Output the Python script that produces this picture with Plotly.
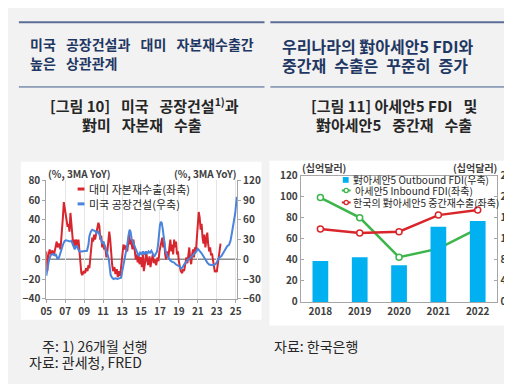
import plotly.graph_objects as go

# ---------------- Left chart data ----------------
red_t = [2005.0, 2005.1, 2005.2, 2005.35, 2005.5, 2005.65, 2005.8, 2005.95, 2006.1, 2006.2, 2006.35, 2006.5,
         2006.6, 2006.75, 2006.85, 2007.0, 2007.1, 2007.25, 2007.35, 2007.45, 2007.55, 2007.65, 2007.75, 2007.85,
         2007.95, 2008.05, 2008.15, 2008.3, 2008.4, 2008.5, 2008.6, 2008.7, 2008.8, 2008.95, 2009.1, 2009.2,
         2009.35, 2009.45, 2009.55, 2009.65, 2009.75, 2009.85, 2009.95, 2010.05, 2010.15, 2010.3, 2010.4, 2010.5,
         2010.6, 2010.7, 2010.8, 2010.9, 2011.0, 2011.1, 2011.2, 2011.35, 2011.45, 2011.55, 2011.65, 2011.75,
         2011.85, 2011.95, 2012.05, 2012.2, 2012.3, 2012.45, 2012.55, 2012.7, 2012.8, 2012.95, 2013.05, 2013.15,
         2013.3, 2013.4, 2013.55, 2013.65, 2013.75, 2013.85, 2013.95, 2014.1, 2014.2, 2014.3, 2014.45, 2014.55,
         2014.65, 2014.75, 2014.85, 2015.0, 2015.1, 2015.2, 2015.3, 2015.45, 2015.55, 2015.65, 2015.75, 2015.9,
         2016.0, 2016.1, 2016.25, 2016.35, 2016.5, 2016.6, 2016.75, 2016.85, 2016.95, 2017.1, 2017.25, 2017.35,
         2017.45, 2017.55, 2017.65, 2017.8, 2017.9, 2018.0, 2018.1, 2018.2, 2018.3, 2018.4, 2018.5, 2018.6,
         2018.7, 2018.8, 2018.9, 2019.0, 2019.1, 2019.2, 2019.35, 2019.45, 2019.55, 2019.7, 2019.8, 2019.9,
         2020.0, 2020.1, 2020.2, 2020.3, 2020.4, 2020.5, 2020.6, 2020.7, 2020.8, 2020.9, 2021.0, 2021.1,
         2021.2, 2021.3, 2021.4, 2021.5, 2021.6, 2021.7, 2021.8, 2021.9, 2022.0, 2022.1, 2022.2, 2022.3,
         2022.4, 2022.5, 2022.6, 2022.7, 2022.8, 2022.9, 2023.0, 2023.1, 2023.2, 2023.3, 2023.4]
red_v = [8, -12, 2, 10, 5, 9, 4, 12, 18, 12, 16, 10,
         20, 42, 58, 48, 38, 33, 36, 28, 47, 38, 25, 14,
         20, 12, 20, 14, 20, 8, -2, -14, -16, -12, -14, -9,
         -12, -6, -9, 0, 10, 22, 18, 25, 20, 28, 33, 37,
         34, 20, 24, 12, 18, 10, 14, 2, 8, 18, 28, 20,
         5, -5, -12, -8, -15, -10, -18, -12, -17, -5, 5, 15,
         10, 14, 8, 18, 25, 15, 20, 10, 20, 12, 0, 5,
         -3, 4, -5, 2, -8, 5, -12, -2, 8, 0, -6, 3,
         -8, -2, 5, -4, 0, -6, 2, -2, 8, 15, 22, 12,
         18, 5, 0, 8, 2, 12, 20, 8, 15, 5, 20, 12,
         18, 5, 8, -2, -8, -12, -14, -10, -12, -5, 2, -4,
         8, 12, 0, -5, 5, 10, 2, 12, 8, 18, 35, 48,
         42, 30, 36, 22, 16, 25, 12, 20, 27, 15, 8, 12,
         4, 6, 0, -5, -13, -11, -13, -6, 2, 10, 16]

blue_t = [2005.0, 2005.15, 2005.3, 2005.5, 2005.7, 2005.9, 2006.0, 2006.1, 2006.2, 2006.35, 2006.5, 2006.65,
          2006.8, 2006.95, 2007.1, 2007.3, 2007.5, 2007.65, 2007.8, 2007.9, 2008.0, 2008.1, 2008.2, 2008.35,
          2008.5, 2008.7, 2008.9, 2009.1, 2009.3, 2009.45, 2009.55, 2009.7, 2009.85, 2010.0, 2010.15, 2010.3,
          2010.45, 2010.6, 2010.75, 2010.9, 2011.05, 2011.2, 2011.35, 2011.5, 2011.6, 2011.7, 2011.8, 2011.95,
          2012.1, 2012.3, 2012.5, 2012.7, 2012.9, 2013.0, 2013.1, 2013.25, 2013.35, 2013.45, 2013.55, 2013.7,
          2013.8, 2013.9, 2014.0, 2014.15, 2014.3, 2014.45, 2014.6, 2014.75, 2014.9, 2015.05, 2015.2, 2015.35,
          2015.5, 2015.65, 2015.8, 2015.95, 2016.1, 2016.25, 2016.4, 2016.55, 2016.7, 2016.8, 2016.9, 2017.0,
          2017.1, 2017.2, 2017.3, 2017.4, 2017.5, 2017.6, 2017.75, 2017.9, 2018.1, 2018.3, 2018.5, 2018.7,
          2018.9, 2019.1, 2019.25, 2019.4, 2019.55, 2019.7, 2019.85, 2020.0, 2020.2, 2020.4, 2020.6, 2020.8,
          2021.0, 2021.15, 2021.3, 2021.45, 2021.6, 2021.8, 2022.0, 2022.2, 2022.4, 2022.6, 2022.8, 2023.0,
          2023.15, 2023.3, 2023.5, 2023.7, 2023.9, 2024.1, 2024.3, 2024.45, 2024.6, 2024.75, 2024.85, 2024.95,
          2025.05, 2025.12]
blue_v = [-25, -12, 0, 7, 8, 6, 8, 4, 0, 3, 10, 18,
          24, 28, 29, 28, 27, 28, 22, 16, 15, 19, 21, 16,
          12, 12, 12, 12, 13, 22, 35, 42, 45, 44, 43, 40,
          43, 38, 30, 25, 26, 20, 12, 6, 0, -12, -24, -28,
          -30, -29, -30, -29, -28, -20, -12, -5, 2, 10, 22, 38,
          45, 42, 32, 26, 20, 14, 8, 5, 10, 8, 12, 7,
          12, 8, 12, 10, 13, 8, 4, 8, 12, 22, 40, 52,
          57, 55, 46, 35, 22, 12, 6, 2, -2, -4, -5, -8,
          -9, -11, -14, -12, -8, -5, -2, 0, 2, 5, 8, 11,
          16, 14, 11, 8, 4, 0, -5, -8, -9, -9, -8, -5,
          0, 3, 5, 10, 15, 20, 22, 28, 40, 52, 57, 70,
          85, 95]

left_xticks = [2005, 2007, 2009, 2011, 2013, 2015, 2017, 2019, 2021, 2023, 2025]
left_xticklabels = ["05", "07", "09", "11", "13", "15", "17", "19", "21", "23", "25"]
left_names = ["대미 자본재수출(좌축)", "미국 공장건설(우축)"]

# ---------------- Right chart data ----------------
years = ["2018", "2019", "2020", "2021", "2022"]
outbound_fdi = [7.8, 8.5, 7.0, 14.3, 15.4]      # right axis
inbound_fdi = [99.3, 80.2, 42.5, 50.7, 69.8]     # left axis
inter_exports = [69.3, 65.6, 66.8, 82.6, 87.5]   # left axis
right_names = ["對아세안5 Outbound FDI(우축)", "아세안5 Inbound FDI(좌축)", "한국의 對아세안5 중간재수출(좌축)"]

FONT = "Noto Sans CJK KR"
W, H = 512, 384
RED, BLUE = "#d7262d", "#4a84dc"
CYAN, GREEN, RED2 = "#00b0f0", "#3cb54a", "#d9262b"
SP = "\u2002 "   # wide word gap
SP2 = "\u2002"   # medium word gap


def px(x):
    return x / W


def py(y):
    return 1 - y / H


fig = go.Figure()

fig.add_trace(go.Scatter(x=red_t, y=red_v, mode="lines", name=left_names[0],
                         line=dict(color=RED, width=2), xaxis="x", yaxis="y"))
fig.add_trace(go.Scatter(x=blue_t, y=blue_v, mode="lines", name=left_names[1],
                         line=dict(color=BLUE, width=2), xaxis="x", yaxis="y2"))

fig.add_trace(go.Bar(x=years, y=outbound_fdi, name=right_names[0],
                     marker=dict(color=CYAN, line=dict(width=0)), xaxis="x2", yaxis="y4"))
fig.add_trace(go.Scatter(x=years, y=inbound_fdi, mode="lines+markers", name=right_names[1],
                         line=dict(color=GREEN, width=2.5),
                         marker=dict(symbol="circle", size=6, color="white", line=dict(color=GREEN, width=1.5)),
                         xaxis="x2", yaxis="y3"))
fig.add_trace(go.Scatter(x=years, y=inter_exports, mode="lines+markers", name=right_names[2],
                         line=dict(color=RED2, width=2.5),
                         marker=dict(symbol="circle", size=6, color="white", line=dict(color=RED2, width=1.5)),
                         xaxis="x2", yaxis="y3"))

tickfont = dict(family=FONT, size=10, color="#404040", weight="bold")


def line_shape(x0, x1, y, color, width):
    return dict(type="line", xref="paper", yref="paper", x0=px(x0), x1=px(x1), y0=py(y), y1=py(y),
                line=dict(color=color, width=width))


def circle_shape(cx, cy, r, color):
    return dict(type="circle", xref="paper", yref="paper", x0=px(cx - r), x1=px(cx + r),
                y0=py(cy + r), y1=py(cy - r), fillcolor="white", line=dict(color=color, width=1.3))


shapes = [
    # panels
    dict(type="rect", xref="paper", yref="paper", x0=px(7), x1=px(253), y0=py(316), y1=py(151),
         fillcolor="white", line=dict(width=0), layer="below"),
    dict(type="rect", xref="paper", yref="paper", x0=px(261), x1=px(508), y0=py(322), y1=py(150),
         fillcolor="white", line=dict(width=0), layer="below"),
    # top rules
    line_shape(5, 256, 5.5, "#5b6f96", 2),
    line_shape(262, 512, 5.5, "#5b6f96", 2),
    line_shape(5, 256, 73, "#3f5a88", 1),
    line_shape(262, 512, 73, "#3f5a88", 1),
    # zero line on left chart
    dict(type="line", xref="x domain", yref="y", x0=0, x1=1, y0=0, y1=0,
         line=dict(color="#8c8c8c", width=1.5), layer="below"),
    # left legend symbols
    line_shape(65, 72, 179.5, RED, 3),
    line_shape(65, 72, 195, BLUE, 3),
    # right legend symbols
    dict(type="rect", xref="paper", yref="paper", x0=px(336), x1=px(342), y0=py(173), y1=py(167),
         fillcolor=CYAN, line=dict(width=0)),
    line_shape(335, 344, 181, GREEN, 2),
    circle_shape(339.5, 181, 2.2, GREEN),
    line_shape(335, 344, 193.5, RED2, 2),
    circle_shape(339.5, 193.5, 2.2, RED2),
]

annotations = [
    dict(text="미국" + SP + "공장건설과" + SP + "대미" + SP + "자본재수출간", x=px(14), y=py(28), xanchor="left",
         yanchor="middle", font=dict(family=FONT, size=14, color="#1f3763", weight="bold")),
    dict(text="높은" + SP + "상관관계", x=px(14), y=py(48), xanchor="left", yanchor="middle",
         font=dict(family=FONT, size=14, color="#1f3763", weight="bold")),
    dict(text="우리나라의 對아세안5 FDI와", x=px(272), y=py(30), xanchor="left", yanchor="middle",
         font=dict(family=FONT, size=16, color="#1f3763", weight="bold")),
    dict(text="중간재" + SP2 + "수출은" + SP2 + "꾸준히" + SP2 + "증가", x=px(272), y=py(50), xanchor="left",
         yanchor="middle", font=dict(family=FONT, size=16, color="#1f3763", weight="bold")),
    dict(text="[그림 10]" + SP + "미국" + SP + "공장건설<sup>1)</sup>과", x=px(133), y=py(92), xanchor="center",
         yanchor="middle", font=dict(family=FONT, size=15, color="#262626", weight="bold")),
    dict(text="對미" + SP + "자본재" + SP + "수출", x=px(131), y=py(112), xanchor="center", yanchor="middle",
         font=dict(family=FONT, size=15, color="#262626", weight="bold")),
    dict(text="[그림 11] 아세안5 FDI" + SP + "및", x=px(388), y=py(92), xanchor="center", yanchor="middle",
         font=dict(family=FONT, size=15, color="#262626", weight="bold")),
    dict(text="對아세안5" + SP + "중간재" + SP + "수출", x=px(388), y=py(112), xanchor="center",
         yanchor="middle", font=dict(family=FONT, size=15, color="#262626", weight="bold")),
    dict(text="(%, 3MA YoY)", x=px(33), y=py(163), xanchor="left", yanchor="middle",
         font=dict(family=FONT, size=10, color="#404040", weight="bold")),
    dict(text="(%, 3MA YoY)", x=px(230), y=py(163), xanchor="right", yanchor="middle",
         font=dict(family=FONT, size=10, color="#404040", weight="bold")),
    dict(text="(십억달러)", x=px(292), y=py(157), xanchor="left", yanchor="middle",
         font=dict(family=FONT, size=10, color="#404040", weight="bold")),
    dict(text="(십억달러)", x=px(496), y=py(157), xanchor="right", yanchor="middle",
         font=dict(family=FONT, size=10, color="#404040", weight="bold")),
    # left legend texts
    dict(text=left_names[0], x=px(75), y=py(179.5), xanchor="left", yanchor="middle",
         font=dict(family=FONT, size=11, color="#262626")),
    dict(text=left_names[1], x=px(75), y=py(195), xanchor="left", yanchor="middle",
         font=dict(family=FONT, size=11, color="#262626")),
    # right legend texts
    dict(text=right_names[0], x=px(344), y=py(170), xanchor="left", yanchor="middle",
         font=dict(family=FONT, size=10, color="#262626")),
    dict(text=right_names[1], x=px(346), y=py(181), xanchor="left", yanchor="middle",
         font=dict(family=FONT, size=10, color="#262626")),
    dict(text=right_names[2], x=px(344), y=py(193.5), xanchor="left", yanchor="middle",
         font=dict(family=FONT, size=10, color="#262626")),
    # notes
    dict(text="주: 1) 26개월 선행", x=px(27), y=py(343), xanchor="left", yanchor="middle",
         font=dict(family=FONT, size=14, color="#262626")),
    dict(text="자료: 관세청, FRED", x=px(13), y=py(360), xanchor="left", yanchor="middle",
         font=dict(family=FONT, size=14, color="#262626")),
    dict(text="자료: 한국은행", x=px(264), y=py(343), xanchor="left", yanchor="middle",
         font=dict(family=FONT, size=14, color="#262626")),
]
for a in annotations:
    a.update(xref="paper", yref="paper", showarrow=False)

fig.update_layout(
    width=W, height=H, margin=dict(l=0, r=0, t=0, b=0),
    paper_bgcolor="#f2f2f2", plot_bgcolor="rgba(0,0,0,0)",
    font=dict(family=FONT, color="#404040"),
    showlegend=False,
    shapes=shapes, annotations=annotations,
    bargap=0.6,
    xaxis=dict(domain=[px(33), px(228)], range=[2005, 2025.15], tickvals=left_xticks, ticktext=left_xticklabels,
               showgrid=True, gridcolor="#e6e6e6", gridwidth=1, showline=True, linecolor="#a6a6a6",
               ticks="outside", ticklen=3, tickcolor="#a6a6a6", tickfont=tickfont, zeroline=False,
               anchor="y"),
    yaxis=dict(domain=[py(294), py(170.5)], range=[-40, 80], dtick=20, showgrid=False, zeroline=False,
               showline=True, linecolor="#a6a6a6", ticks="outside", ticklen=3, tickcolor="#a6a6a6",
               tickfont=tickfont, anchor="x"),
    yaxis2=dict(overlaying="y", side="right", range=[-60, 120], dtick=30, showgrid=False, zeroline=False,
                showline=True, linecolor="#a6a6a6", ticks="outside", ticklen=3, tickcolor="#a6a6a6",
                tickfont=tickfont, anchor="x"),
    xaxis2=dict(domain=[px(293), px(494)], type="category", showgrid=False, showline=True, mirror=True,
                linecolor="#a6a6a6", ticks="", tickfont=tickfont, anchor="y3"),
    yaxis3=dict(domain=[py(297.3), py(165.7)], range=[0, 120], dtick=20, showgrid=False, zeroline=False,
                showline=True, linecolor="#a6a6a6", ticks="inside", ticklen=3, tickcolor="#a6a6a6",
                tickfont=tickfont, anchor="x2"),
    yaxis4=dict(overlaying="y3", side="right", range=[0, 24], dtick=4, showgrid=False, zeroline=False,
                showline=True, linecolor="#a6a6a6", ticks="inside", ticklen=3, tickcolor="#a6a6a6",
                tickfont=tickfont, anchor="x2"),
)

fig.write_html("out.html")
